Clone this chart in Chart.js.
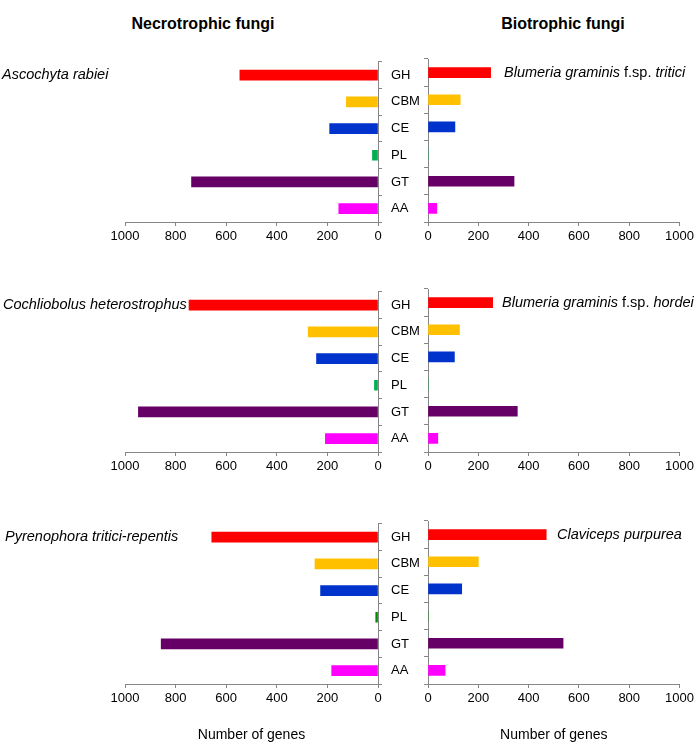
<!DOCTYPE html>
<html>
<head>
<meta charset="utf-8">
<script src="https://cdn.jsdelivr.net/npm/chart.js@4.4.1/dist/chart.umd.min.js"></script>
<style>
    body { margin: 0; background: #fff; }
    #wrap { position: relative; width: 697px; height: 744px; font-family: "Liberation Sans", Arial, sans-serif; }
    canvas { position: absolute; }
    .head { position: absolute; top: 15px; font-weight: bold; font-size: 16px; transform: translateX(-50%); white-space: nowrap; color: #000; }
</style>
</head>
<body>
<div id="wrap">
    <div class="head" style="left:203px">Necrotrophic fungi</div>
    <div class="head" style="left:563px">Biotrophic fungi</div>
</div>
<script>
// CAZyme families (category axis) and x tick labels
const families = ["GH", "CBM", "CE", "PL", "GT", "AA"];
const xTicks = [0, 200, 400, 600, 800, 1000];

// necrotrophic fungi (left column)
const ascochytaRabiei = [546, 125, 191, 22, 737, 155];
const cochliobolusHeterostrophus = [747, 276, 243, 14, 947, 208];
const pyrenophoraTriticiRepentis = [657, 249, 227, 9, 857, 183];

// biotrophic fungi (right column)
const blumeriaTritici = [249, 128, 107, 0, 342, 35];
const blumeriaHordei = [257, 125, 105, 0, 355, 39];
const clavicepsPurpurea = [470, 200, 134, 0, 537, 68];

// species names: [text, italic]
const necroNames = [
    [["Ascochyta rabiei", true]],
    [["Cochliobolus heterostrophus", true]],
    [["Pyrenophora tritici-repentis", true]]
];
const bioNames = [
    [["Blumeria graminis ", true], ["f.sp. ", false], ["tritici", true]],
    [["Blumeria graminis ", true], ["f.sp. ", false], ["hordei", true]],
    [["Claviceps purpurea", true]]
];

const barColors = ["#ff0000", "#ffc000", "#0033cc", "#00b050", "#660066", "#ff00ff"];
const barColorsRow3 = ["#ff0000", "#ffc000", "#0033cc", "#008a00", "#660066", "#ff00ff"];

Chart.defaults.font.family = "'Liberation Sans', Arial, sans-serif";
Chart.defaults.color = "#000";

const axisGray = "#868686";
const rowTops = [59, 289, 521];
const plotH = 163;
const padTop = 14;

// draws the species name next to the first bar
const speciesLabel = {
    id: "speciesLabel",
    afterDraw(chart, args, opts) {
        const ctx = chart.ctx;
        const y = chart.scales.y.getPixelForValue(0);
        let x = opts.x;
        ctx.save();
        ctx.fillStyle = "#000";
        ctx.textBaseline = "middle";
        opts.parts.forEach(p => {
            ctx.font = (p[1] ? "italic " : "") + "14.5px 'Liberation Sans', Arial, sans-serif";
            ctx.fillText(p[0], x, y);
            x += ctx.measureText(p[0]).width;
        });
        ctx.restore();
    }
};

function addCanvas(left, top, w, h) {
    const c = document.createElement("canvas");
    c.width = w;
    c.height = h;
    c.style.left = left + "px";
    c.style.top = top + "px";
    c.style.width = w + "px";
    c.style.height = h + "px";
    document.getElementById("wrap").appendChild(c);
    return c;
}

function makePanel(side, row, values, colors, nameParts, labelX) {
    const bottomRow = row === 2;
    const xh = bottomRow ? 60 : 30;
    const left = side === "left" ? 0 : 400;
    const w = side === "left" ? 427 : 297;
    const top = rowTops[row] - padTop;
    const canvas = addCanvas(left, top, w, padTop + plotH + xh);

    new Chart(canvas.getContext("2d"), {
        type: "bar",
        data: {
            labels: families,
            datasets: [{
                data: values,
                backgroundColor: colors,
                borderWidth: 0,
                barThickness: 10
            }]
        },
        options: {
            indexAxis: "y",
            responsive: false,
            animation: false,
            layout: {
                padding: side === "left"
                    ? { top: padTop, left: 125, right: 0, bottom: 0 }
                    : { top: padTop, left: 0, right: 16, bottom: 0 }
            },
            plugins: {
                legend: { display: false },
                tooltip: { enabled: false },
                speciesLabel: { x: labelX - left, parts: nameParts }
            },
            scales: {
                x: {
                    reverse: side === "left",
                    min: 0,
                    max: 1000,
                    afterBuildTicks: s => { s.ticks = xTicks.map(v => ({ value: v })); },
                    afterFit: s => { s.height = xh; },
                    grid: { drawOnChartArea: false, tickLength: 4, color: axisGray },
                    border: { color: axisGray },
                    ticks: { font: { size: 13 }, padding: 3, maxRotation: 0, callback: v => String(v) },
                    title: {
                        display: bottomRow,
                        text: "Number of genes",
                        font: { size: 14 },
                        padding: 0
                    }
                },
                y: {
                    position: side === "left" ? "right" : "left",
                    afterFit: s => { s.width = side === "left" ? 49 : 28; },
                    grid: { drawOnChartArea: false, tickLength: 4, color: axisGray },
                    border: { color: axisGray },
                    ticks: side === "left"
                        ? { display: true, font: { size: 13 }, padding: 9, crossAlign: "near" }
                        : { display: false }
                }
            }
        },
        plugins: [speciesLabel]
    });
}

makePanel("left", 0, ascochytaRabiei, barColors, necroNames[0], 2);
makePanel("left", 1, cochliobolusHeterostrophus, barColors, necroNames[1], 3);
makePanel("left", 2, pyrenophoraTriticiRepentis, barColorsRow3, necroNames[2], 5);
makePanel("right", 0, blumeriaTritici, barColors, bioNames[0], 504);
makePanel("right", 1, blumeriaHordei, barColors, bioNames[1], 502);
makePanel("right", 2, clavicepsPurpurea, barColorsRow3, bioNames[2], 557);
</script>
</body>
</html>
